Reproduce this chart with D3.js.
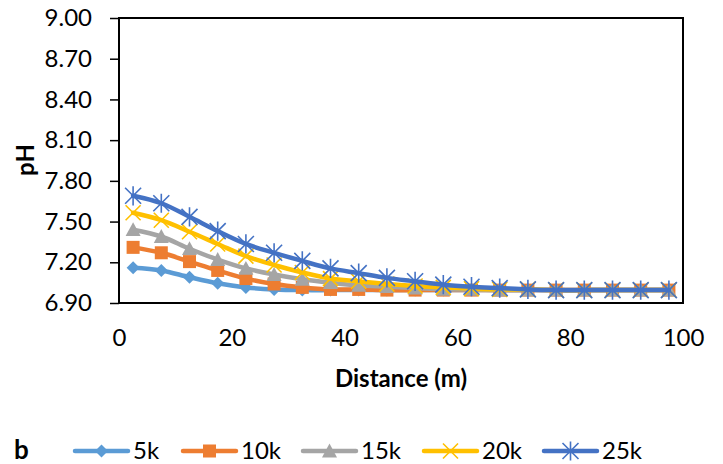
<!DOCTYPE html>
<html>
<head>
<meta charset="utf-8">
<script src="https://cdn.jsdelivr.net/npm/d3@7"></script>
<style>
  body { margin: 0; background: #fff; }
  svg text { font-family: Lato, "Open Sans", sans-serif; fill: #000; }
</style>
</head>
<body>
<svg id="chart" width="723" height="464"></svg>
<script>
// distance (m) of each sample point
var distance = [2.5, 7.5, 12.5, 17.5, 22.5, 27.5, 32.5, 37.5, 42.5, 47.5, 52.5, 57.5, 62.5, 67.5, 72.5, 77.5, 82.5, 87.5, 92.5, 97.5];
var ph5k  = [7.16, 7.14, 7.09, 7.045, 7.015, 7.00, 6.995, 6.995, 6.995, 6.995, 6.995, 6.995, 6.995, 6.995, 6.995, 6.995, 6.995, 6.995, 6.995, 6.995];
var ph10k = [7.31, 7.27, 7.205, 7.14, 7.08, 7.04, 7.015, 7.00, 7.00, 6.995, 6.995, 6.995, 6.995, 6.995, 6.995, 6.995, 6.995, 6.995, 6.995, 6.995];
var ph15k = [7.44, 7.39, 7.30, 7.22, 7.155, 7.11, 7.075, 7.05, 7.03, 7.02, 7.01, 7.00, 7.00, 6.995, 6.995, 6.995, 6.995, 6.995, 6.995, 6.995];
var ph20k = [7.565, 7.51, 7.425, 7.335, 7.245, 7.18, 7.125, 7.08, 7.06, 7.04, 7.025, 7.015, 7.005, 7.00, 7.00, 6.995, 6.995, 6.995, 6.995, 6.995];
var ph25k = [7.69, 7.635, 7.535, 7.43, 7.335, 7.27, 7.21, 7.155, 7.12, 7.085, 7.06, 7.035, 7.02, 7.01, 7.00, 6.995, 6.995, 6.995, 6.995, 6.995];
var seriesNames = ["5k", "10k", "15k", "20k", "25k"];
var yTicks = [6.90, 7.20, 7.50, 7.80, 8.10, 8.40, 8.70, 9.00];
var xTicks = [0, 20, 40, 60, 80, 100];

var colors = ["#5B9BD5", "#ED7D31", "#A5A5A5", "#FFC000", "#4472C4"];
var markers = ["diamond", "square", "triangle", "x", "star"];
var allSeries = [ph5k, ph10k, ph15k, ph20k, ph25k];

var svg = d3.select("#chart");
var plotL = 119, plotR = 683, plotT = 18, plotB = 303;

var x = d3.scaleLinear().domain([0, 100]).range([plotL, plotR]);
var y = d3.scaleLinear().domain([6.9, 9.0]).range([plotB, plotT]);

// y axis ticks + labels
var yAxis = svg.append("g").attr("transform", "translate(" + plotL + ",0)")
  .call(d3.axisLeft(y).tickValues(yTicks).tickFormat(d3.format(".2f")).tickSize(9).tickSizeOuter(0));
yAxis.select(".domain").remove();
yAxis.selectAll("line").attr("stroke", "#000").attr("stroke-width", 1.5);
yAxis.selectAll("text").attr("font-size", 24).attr("x", -27).attr("fill", "#000");

// x labels (no tick marks)
var xAxis = svg.append("g").attr("transform", "translate(0," + plotB + ")")
  .call(d3.axisBottom(x).tickValues(xTicks).tickSize(0).tickPadding(26));
xAxis.select(".domain").remove();
xAxis.selectAll("text").attr("font-size", 24).attr("fill", "#000");

// plot frame
svg.append("rect").attr("x", plotL).attr("y", plotT).attr("width", plotR - plotL).attr("height", plotB - plotT)
  .attr("fill", "none").attr("stroke", "#000").attr("stroke-width", 2);

function drawMarker(g, type, color, cx, cy, s) {
  if (type === "diamond") {
    g.append("path").attr("d", "M" + cx + "," + (cy - s) + "L" + (cx + s) + "," + cy + "L" + cx + "," + (cy + s) + "L" + (cx - s) + "," + cy + "Z")
      .attr("fill", color);
  } else if (type === "square") {
    g.append("rect").attr("x", cx - s).attr("y", cy - s).attr("width", 2 * s).attr("height", 2 * s).attr("fill", color);
  } else if (type === "triangle") {
    g.append("path").attr("d", "M" + cx + "," + (cy - s) + "L" + (cx + s) + "," + (cy + s * 0.85) + "L" + (cx - s) + "," + (cy + s * 0.85) + "Z")
      .attr("fill", color);
  } else if (type === "x") {
    g.append("path").attr("d", "M" + (cx - s) + "," + (cy - s) + "L" + (cx + s) + "," + (cy + s) + "M" + (cx + s) + "," + (cy - s) + "L" + (cx - s) + "," + (cy + s))
      .attr("stroke", color).attr("stroke-width", 1.6).attr("fill", "none");
  } else {
    g.append("path").attr("d", "M" + (cx - s) + "," + (cy - s) + "L" + (cx + s) + "," + (cy + s) + "M" + (cx + s) + "," + (cy - s) + "L" + (cx - s) + "," + (cy + s) +
      "M" + cx + "," + (cy - s * 1.2) + "L" + cx + "," + (cy + s * 1.2))
      .attr("stroke", color).attr("stroke-width", 1.6).attr("fill", "none");
  }
}

var line = d3.line().curve(d3.curveCatmullRom.alpha(0.5))
  .x(function(d, i) { return x(distance[i]); })
  .y(function(d) { return y(d); });

var sizes = [6.5, 6.5, 7.5, 7.5, 8];
allSeries.forEach(function(vals, si) {
  var g = svg.append("g");
  g.append("path").attr("d", line(vals)).attr("fill", "none")
    .attr("stroke", colors[si]).attr("stroke-width", 4.5).attr("stroke-linecap", "round");
  vals.forEach(function(v, i) {
    drawMarker(g, markers[si], colors[si], x(distance[i]), y(v), sizes[si]);
  });
});

// axis titles
svg.append("text").attr("x", (plotL + plotR) / 2).attr("y", 387).attr("text-anchor", "middle")
  .attr("font-size", 24).attr("font-weight", "bold").text("Distance (m)");
svg.append("text").attr("transform", "translate(34,160) rotate(-90)").attr("text-anchor", "middle")
  .attr("font-size", 24).attr("font-weight", "bold").text("pH");

// panel letter
svg.append("text").attr("x", 14).attr("y", 459).attr("font-size", 26).attr("font-weight", "bold").text("b");

// legend
var legendX = [75, 183, 303, 424, 544];
var legend = svg.append("g");
seriesNames.forEach(function(name, si) {
  var g = legend.append("g");
  var lx = legendX[si];
  g.append("line").attr("x1", lx).attr("x2", lx + 53).attr("y1", 451).attr("y2", 451)
    .attr("stroke", colors[si]).attr("stroke-width", 4.5).attr("stroke-linecap", "round");
  drawMarker(g, markers[si], colors[si], lx + 26.5, 451, sizes[si]);
  g.append("text").attr("x", lx + 58).attr("y", 451).attr("dy", "0.35em").attr("font-size", 24).text(name);
});
</script>
</body>
</html>
